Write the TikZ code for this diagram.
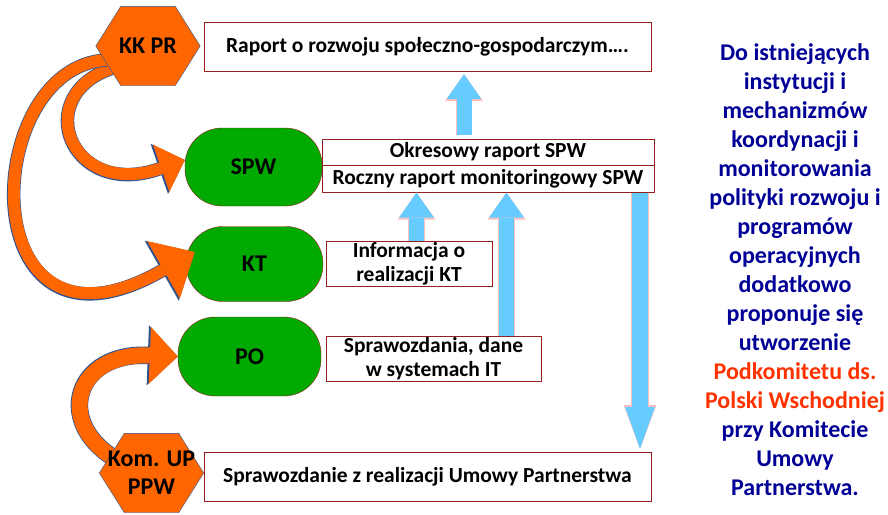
\documentclass[tikz,border=0pt]{standalone}
\usepackage{fontspec}
\setmainfont{Carlito}
\usetikzlibrary{positioning,arrows.meta}
\definecolor{hexorange}{RGB}{255,102,0}
\definecolor{hexline}{RGB}{47,82,143}
\definecolor{unitgreen}{RGB}{0,170,0}
\definecolor{boxred}{RGB}{150,30,30}
\definecolor{flowblue}{RGB}{102,204,255}
\definecolor{flowpink}{RGB}{255,190,190}
\definecolor{notenavy}{RGB}{0,0,150}
\definecolor{notered}{RGB}{255,51,0}
\pgfdeclarelayer{mid}
\pgfdeclarelayer{front}
\pgfsetlayers{main,mid,front}
\tikzset{%
  hexa/.style={rectangle,minimum width=104pt,minimum height=79pt,
    inner sep=0pt,align=center,font=\bfseries\fontsize{24}{28}\selectfont},
  hexfill/.style={fill=hexorange,draw=hexline,line join=miter},
  unit/.style={rectangle,rounded corners=37pt,minimum width=137pt,
    minimum height=78pt,fill=unitgreen,draw=boxred,
    font=\bfseries\fontsize{24}{28}\selectfont},
  report/.style={rectangle,inner sep=0pt,align=center,fill=white,
    draw=boxred,font=\bfseries\fontsize{21.5}{24}\selectfont},
  note/.style={inner sep=0pt,align=center,text=notenavy,
    font=\bfseries\fontsize{24}{29}\selectfont},
  upflow/.style={draw=flowblue,line width=15pt,
    -{Triangle[length=25pt,width=35pt,line width=0pt]},
    preaction={draw=flowpink,line width=16.5pt,
      -{Triangle[length=27pt,width=38pt,line width=0pt]}}},
  downflow/.style={draw=flowblue,line width=16pt,
    -{Triangle[length=42pt,width=30pt,line width=0pt]},
    preaction={draw=flowpink,line width=17.5pt,
      -{Triangle[length=44pt,width=33pt,line width=0pt]}}},
  swing/.style={draw=hexorange}
}

\begin{document}
\begin{tikzpicture}[x=1pt,y=-1pt]
  \useasboundingbox [fill=white] (0,0) rectangle (888,514);

  % committees
  \begin{pgfonlayer}{front}
    \node [hexa] (kkpr) at (148,46) {KK PR};
    \node [hexa] (kom) at (151.5,473) {Kom. UP\\PPW};
  \end{pgfonlayer}
  \begin{pgfonlayer}{mid}
    \foreach \h in {kkpr,kom}
      \draw [hexfill] (\h.west) -- ([xshift=25pt]\h.north west) -- ([xshift=-25pt]\h.north east)
        -- (\h.east) -- ([xshift=-25pt]\h.south east) -- ([xshift=25pt]\h.south west) -- cycle;
  \end{pgfonlayer}

  \node [unit] (spw) at (253.5,167) {SPW};
  \node [unit, minimum height=75pt] (kt) at (254.5,264) {KT};
  \node [unit, minimum width=143pt, minimum height=79pt] (po) at (249.5,356.5) {PO};

  % reports
  \node [report, minimum width=447pt, minimum height=49pt] (raport) at (427.5,46.5)
    {Raport o rozwoju społeczno-gospodarczym….};
  \node [report, minimum width=332pt, minimum height=26pt] (okres) at (488,152)
    {Okresowy raport SPW};
  \node [report, minimum width=332pt, minimum height=27pt] (roczny) [below=0pt of okres]
    {Roczny raport monitoringowy SPW};
  \node [report, minimum width=166pt, minimum height=45pt] (info) at (409,263.5)
    {Informacja o\\realizacji KT};
  \node [report, minimum width=215pt, minimum height=45pt] (sprawo) at (433.5,358.5)
    {Sprawozdania, dane\\w systemach IT};
  \node [report, minimum width=447pt, minimum height=49pt] (umowa) at (427.5,476.5)
    {Sprawozdanie z realizacji Umowy Partnerstwa};

  \node [note] (uwaga) at (795,270) {Do istniejących\\instytucji i\\mechanizmów\\koordynacji i\\monitorowania\\polityki rozwoju i\\programów\\operacyjnych\\dodatkowo\\proponuje się\\utworzenie\\\textcolor{notered}{Podkomitetu ds.}\\\textcolor{notered}{Polski Wschodniej}\\przy Komitecie\\Umowy\\Partnerstwa.};

  % flows
  \draw [upflow, shorten <=4pt, shorten >=3pt] ([xshift=-24pt]okres.north)
    -- ([xshift=-24pt]okres.north |- raport.south);
  \draw [upflow] ([xshift=7.5pt]info.north) -- ([xshift=7.5pt]info.north |- roczny.south);
  \draw [upflow] ([xshift=73pt]sprawo.north) -- ([xshift=73pt]sprawo.north |- roczny.south);
  \draw [downflow, shorten >=3pt] ([xshift=152pt]roczny.south)
    -- ([xshift=152pt]roczny.south |- umowa.north);

  \draw [swing, line width=12pt, -{Triangle[length=25pt,width=50pt,line width=0pt]},
    preaction={draw=hexline, line width=13.5pt, -{Triangle[length=27pt,width=53pt,line width=0pt]}}]
    ([xshift=17pt,yshift=-22pt]kkpr.west) .. controls +(-83,27) and +(-115,40) .. ([yshift=7pt]spw.west);
  \draw [swing, line width=12pt, -{Triangle[length=36pt,width=66pt,line width=0pt]},
    preaction={draw=hexline, line width=13.5pt, -{Triangle[length=38pt,width=69pt,line width=0pt]}}]
    ([xshift=11pt,yshift=-14pt]kkpr.west) .. controls +(-128,6) and +(-225,128) .. ([xshift=9pt,yshift=12pt]kt.west);
  \draw [swing, line width=16pt, -{Triangle[length=28pt,width=57pt,line width=0pt]},
    preaction={draw=hexline, line width=17.5pt, -{Triangle[length=30pt,width=60pt,line width=0pt]}}]
    ([xshift=13pt,yshift=16pt]kom.west) .. controls +(-57,-37) and +(-102,-4) .. (po.west);
\end{tikzpicture}
\end{document}
